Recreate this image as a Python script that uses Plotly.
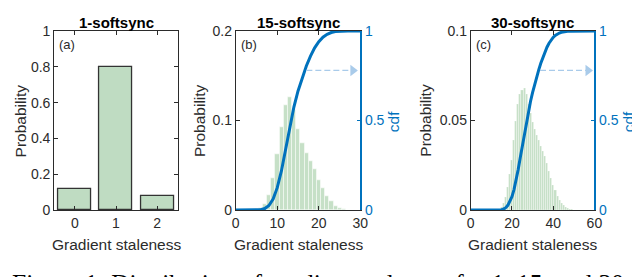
import numpy as np
import plotly.graph_objects as go

# ---------------- data ----------------
titles = ["1-softsync", "15-softsync", "30-softsync"]
panel_tags = ["(a)", "(b)", "(c)"]

a_staleness = [0, 1, 2]
a_prob = [0.12, 0.80, 0.08]
a_xticks = [0, 1, 2]

b_staleness = list(range(5, 27))
b_prob = [0.0005, 0.002, 0.0063, 0.017, 0.036, 0.063, 0.093, 0.1175, 0.126,
          0.112, 0.090, 0.075, 0.064, 0.055, 0.046, 0.034, 0.025, 0.016,
          0.010, 0.005, 0.002, 0.001]
b_xticks = [0, 10, 20, 30]

c_staleness = list(range(14, 51))
c_prob = [0.0005, 0.0015, 0.004, 0.0075, 0.013, 0.020, 0.028, 0.039, 0.050,
          0.059, 0.065, 0.067, 0.068, 0.065, 0.059, 0.054, 0.049, 0.045,
          0.042, 0.039, 0.036, 0.033, 0.030, 0.026, 0.022, 0.018, 0.014,
          0.011, 0.008, 0.0055, 0.004, 0.0028, 0.0018, 0.001, 0.0006,
          0.0003, 0.0002]
c_xticks = [0, 20, 40, 60]

cdf_ticks = [0, 0.5, 1]
arrow_b = ([17, 28.2], 0.78)
arrow_c = ([33.6, 56.9], 0.78)

caption = "Figure 1: Distribution of gradient staleness for 1, 15, and 30-softsync workers."


def cdf_from_hist(xs, ps, xmax):
    grid = np.arange(0, xmax + 1)
    p = np.zeros(len(grid))
    p[np.array(xs)] = ps
    c = np.cumsum(p)
    return grid, c / c[-1]


# ---------------- style ----------------
W, H = 640, 277
FONT = "Liberation Sans, Arial, Helvetica, sans-serif"
AX = "#2b2b2b"
BLUE = "#0072BD"
ARROW = "#a9cbea"
BARA = "#bfdcc2"
HIST = "#c6e0c7"
TICK = 14


def px(x):
    return x / W


def py(y):
    return 1 - y / H


ydom = [py(206), py(16)]
xdoms = [[px(43), px(169)], [px(228), px(355)], [px(467.5), px(593.5)]]

fig = go.Figure()

fig.add_trace(go.Bar(x=a_staleness, y=a_prob, width=0.8,
                     marker=dict(color=BARA, line=dict(color="#333333", width=1.3)),
                     xaxis="x", yaxis="y", showlegend=False))

fig.add_trace(go.Bar(x=b_staleness, y=b_prob, width=1,
                     marker=dict(color=HIST, line=dict(color="white", width=0.5)),
                     xaxis="x2", yaxis="y2", showlegend=False))
gb, cb = cdf_from_hist(b_staleness, b_prob, b_xticks[-1])
fig.add_trace(go.Scatter(x=gb, y=cb, mode="lines", line=dict(color=BLUE, width=3),
                         xaxis="x2", yaxis="y4", cliponaxis=False, showlegend=False))
fig.add_trace(go.Scatter(x=arrow_b[0], y=[arrow_b[1]] * 2, mode="lines",
                         line=dict(color=ARROW, width=1.3, dash="6px,3px"),
                         xaxis="x2", yaxis="y4", showlegend=False))
fig.add_trace(go.Scatter(x=[arrow_b[0][1]], y=[arrow_b[1]], mode="markers",
                         marker=dict(symbol="triangle-right", size=10, color=ARROW),
                         xaxis="x2", yaxis="y4", cliponaxis=False, showlegend=False))

fig.add_trace(go.Bar(x=c_staleness, y=c_prob, width=1,
                     marker=dict(color=HIST, line=dict(color="white", width=0.3)),
                     xaxis="x3", yaxis="y3", showlegend=False))
gc, cc = cdf_from_hist(c_staleness, c_prob, c_xticks[-1])
fig.add_trace(go.Scatter(x=gc, y=cc, mode="lines", line=dict(color=BLUE, width=3),
                         xaxis="x3", yaxis="y5", cliponaxis=False, showlegend=False))
fig.add_trace(go.Scatter(x=arrow_c[0], y=[arrow_c[1]] * 2, mode="lines",
                         line=dict(color=ARROW, width=1.3, dash="6px,3px"),
                         xaxis="x3", yaxis="y5", showlegend=False))
fig.add_trace(go.Scatter(x=[arrow_c[0][1]], y=[arrow_c[1]], mode="markers",
                         marker=dict(symbol="triangle-right", size=10, color=ARROW),
                         xaxis="x3", yaxis="y5", cliponaxis=False, showlegend=False))

common = dict(showline=True, linecolor=AX, linewidth=1, ticks="inside", ticklen=4,
              tickcolor=AX, tickwidth=1, showgrid=False, zeroline=False,
              tickfont=dict(size=TICK, color=AX, family=FONT), fixedrange=True)
blue_ax = dict(showline=True, linecolor=BLUE, linewidth=1.6, ticks="inside", ticklen=4,
               tickcolor=BLUE, tickwidth=1, showgrid=False, zeroline=False,
               tickfont=dict(size=TICK, color=BLUE, family=FONT), side="right",
               range=[0, 1], tickvals=cdf_ticks, ticktext=["0", "0.5", "1"])

fig.update_layout(
    width=W, height=H, margin=dict(l=0, r=0, t=0, b=0),
    paper_bgcolor="white", plot_bgcolor="white", bargap=0,
    font=dict(family=FONT, color=AX),
    xaxis=dict(domain=xdoms[0], anchor="y", range=[-0.5, 2.5], tickvals=a_xticks,
               mirror="ticks", **common),
    yaxis=dict(domain=ydom, anchor="x", range=[0, 1], dtick=0.2, mirror="ticks", **common),
    xaxis2=dict(domain=xdoms[1], anchor="y2", range=[0, 30], tickvals=b_xticks,
                mirror="ticks", **common),
    yaxis2=dict(domain=ydom, anchor="x2", range=[0, 0.2], dtick=0.1, **common),
    yaxis4=dict(overlaying="y2", anchor="x2", **blue_ax),
    xaxis3=dict(domain=xdoms[2], anchor="y3", range=[0, 60], tickvals=c_xticks,
                mirror="ticks", **common),
    yaxis3=dict(domain=ydom, anchor="x3", range=[0, 0.1], dtick=0.05, **common),
    yaxis5=dict(overlaying="y3", anchor="x3", **blue_ax),
)

ann = []
centers = [106, 291.5, 530.5]
for i in range(3):
    ann.append(dict(text="<b>%s</b>" % titles[i], x=px(centers[i]), y=py(6.5),
                    xref="paper", yref="paper", showarrow=False,
                    font=dict(size=15, color="black", family=FONT),
                    xanchor="center", yanchor="middle"))
    ann.append(dict(text="Gradient staleness", x=px(centers[i]), y=py(243),
                    xref="paper", yref="paper", showarrow=False,
                    font=dict(size=15.5, color=AX, family=FONT),
                    xanchor="center", yanchor="middle"))
    ann.append(dict(text=panel_tags[i], x=px([46, 231, 470.5][i]), y=py(30),
                    xref="paper", yref="paper", showarrow=False,
                    font=dict(size=13, color=AX, family=FONT),
                    xanchor="left", yanchor="middle"))
for xc in [9, 191, 421]:
    ann.append(dict(text="Probability", x=px(xc), y=py(111), xref="paper", yref="paper",
                    showarrow=False, textangle=-90,
                    font=dict(size=15.5, color=AX, family=FONT),
                    xanchor="center", yanchor="middle"))
for xc in [389, 628.5]:
    ann.append(dict(text="cdf", x=px(xc), y=py(112), xref="paper", yref="paper",
                    showarrow=False, textangle=-90,
                    font=dict(size=15.5, color=BLUE, family=FONT),
                    xanchor="center", yanchor="middle"))
ann.append(dict(text=caption, x=0, y=py(266.5), xref="paper", yref="paper",
                showarrow=False, xanchor="left", yanchor="top", xshift=-2,
                font=dict(size=25.5, color="black", family="Liberation Serif, Times New Roman, serif")))
fig.update_layout(annotations=ann)

fig.write_html("out.html")
